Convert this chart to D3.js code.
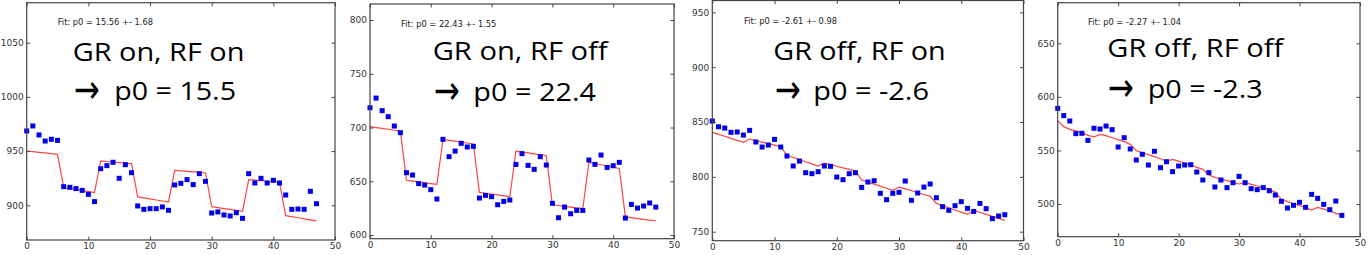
<!DOCTYPE html>
<html><head><meta charset="utf-8">
<script src="https://cdn.jsdelivr.net/npm/d3@7"></script>
<style>
html,body{margin:0;padding:0;background:#fff;}
svg{display:block;}
</style></head>
<body>
<script>
// ---- data ----
const steps = d3.range(48);
const xTicks = [0, 10, 20, 30, 40, 50];

const titles = ["GR on, RF on", "GR on, RF off", "GR off, RF on", "GR off, RF off"];
const results = ["p0 = 15.5", "p0 = 22.4", "p0 = -2.6", "p0 = -2.3"];
const fitLabels = ["Fit: p0 = 15.56 +- 1.68", "Fit: p0 = 22.43 +- 1.55", "Fit: p0 = -2.61 +- 0.98", "Fit: p0 = -2.27 +- 1.04"];

const yTicks1 = [900, 950, 1000, 1050];
const yTicks2 = [600, 650, 700, 750, 800];
const yTicks3 = [750, 800, 850, 900, 950];
const yTicks4 = [500, 550, 600, 650];

const pts1 = [968.6,973.2,964.9,959.3,960.9,959.9,917.2,916.6,915.4,913.8,910.1,903.4,933.8,936.6,939.7,924.9,937.5,930.1,899.4,896.3,896.9,896.9,898.5,895.4,918.8,920.3,923.7,919.1,929.2,922.1,892.9,893.9,891.1,890.2,893.2,888.0,929.2,920.6,924.9,920.6,923.1,920.6,909.5,896.3,896.6,896.3,912.9,901.5];
const fit1 = [950.1,949.5,948.9,948.3,947.7,947.0,916.3,915.4,914.5,913.6,912.7,911.7,940.9,940.4,939.9,939.4,938.9,938.4,907.7,906.8,905.9,904.9,904.0,903.1,932.3,931.8,931.3,930.8,930.3,929.8,898.8,897.9,897.0,896.2,895.4,894.5,923.7,923.2,922.7,922.2,921.7,921.2,890.5,889.5,888.5,887.5,886.6,885.6];

const pts2 = [718.4,727.4,715.7,710.1,701.4,695.2,658.0,655.8,647.8,646.5,642.2,633.5,689.0,672.9,678.1,685.3,681.9,682.5,634.4,636.9,635.7,628.2,631.3,632.6,665.7,675.7,664.8,661.1,672.9,665.1,629.5,616.1,626.0,619.8,622.9,622.9,669.8,665.7,674.4,662.9,664.5,667.6,615.8,628.5,625.1,627.0,629.8,626.0];
const fit2 = [700.8,700.0,699.2,698.4,697.5,696.7,650.9,650.1,649.4,648.6,647.9,647.1,689.0,688.1,687.3,686.4,685.6,684.7,639.7,638.9,638.1,637.3,636.5,635.7,678.1,677.2,676.4,675.5,674.7,673.8,628.2,627.5,626.7,626.0,625.2,624.5,667.6,666.5,665.4,664.2,663.1,662.0,617.1,616.2,615.3,614.5,613.8,613.3];

const pts3 = [850.9,845.7,844.5,840.6,840.9,838.1,842.4,831.8,827.2,829.0,834.2,827.2,819.0,809.9,814.4,803.8,802.9,804.7,809.9,809.6,799.8,797.4,802.9,803.8,790.4,795.3,796.5,785.0,779.2,785.0,785.9,796.2,778.6,785.3,790.7,793.5,781.0,772.8,769.5,773.7,777.4,771.3,768.5,775.8,771.0,761.9,764.3,765.5];
const fit3 = [840.6,838.8,837.0,835.1,833.3,831.5,834.5,833.1,831.7,830.3,828.9,827.5,819.6,817.7,815.7,813.8,811.8,809.9,812.6,811.1,809.7,808.2,806.8,805.3,797.1,795.2,793.4,791.5,789.6,787.7,790.7,789.0,787.3,785.6,783.9,782.2,775.8,773.8,771.8,769.8,767.8,765.8,769.5,767.7,765.8,764.0,762.2,760.3];

const pts4 = [589.3,582.5,577.5,565.7,566.0,559.4,570.7,570.0,572.8,569.4,553.2,561.9,551.4,541.1,546.4,536.4,549.2,533.9,539.5,530.2,535.5,536.4,536.7,529.9,522.4,529.3,515.9,522.4,515.3,519.9,525.8,519.9,514.3,513.4,515.3,512.4,508.4,502.5,496.3,498.8,501.6,496.9,509.0,505.3,499.7,494.7,502.8,489.4];
const fit4 = [577.8,572.2,569.7,568.2,566.6,564.1,562.6,565.0,563.8,561.9,560.1,558.2,555.7,549.8,547.9,546.1,544.2,542.3,539.8,541.7,540.1,538.3,536.4,534.2,532.4,527.1,524.9,523.3,521.8,520.2,518.7,520.2,518.4,516.8,515.3,513.4,510.9,504.4,502.2,500.3,498.4,496.9,494.4,496.9,495.3,493.5,491.3,489.4];

// ---- layout (pixel geometry of each panel) ----
const layout = [
  {left: 26.7, right: 335, top: 2.7, bottom: 240, ymin: 868.0, ymax: 1086.9, fitX: 57.7, fitY: 25, tX: 72.7, tY: 61, tW: 171.7, aX: 74, rX: 114.3, rY: 100, rW: 121.7},
  {left: 370, right: 674, top: 4, bottom: 238.7, ymin: 596.6, ymax: 814.9, fitX: 401, fitY: 27, tX: 432.7, tY: 60, tW: 175, aX: 434, rX: 473.3, rY: 101, rW: 122.7},
  {left: 712.3, right: 1023.5, top: 0.5, bottom: 240.7, ymin: 741.8, ymax: 960.8, fitX: 744, fitY: 24, tX: 773.3, tY: 60, tW: 172.4, aX: 775, rX: 813.3, rY: 100, rW: 115.7},
  {left: 1057.7, right: 1360, top: 2.7, bottom: 236.7, ymin: 469.5, ymax: 687.9, fitX: 1088, fitY: 25, tX: 1107.3, tY: 57, tW: 176, aX: 1108, rX: 1147.7, rY: 98, rW: 115}
];

const panels = [
  {pts: pts1, fit: fit1, yTicks: yTicks1},
  {pts: pts2, fit: fit2, yTicks: yTicks2},
  {pts: pts3, fit: fit3, yTicks: yTicks3},
  {pts: pts4, fit: fit4, yTicks: yTicks4}
];

const W = 1371, H = 255;
const svg = d3.select("body").append("svg").attr("width", W).attr("height", H);
svg.append("rect").attr("width", W).attr("height", H).attr("fill", "#fff");

panels.forEach((p, i) => {
  const L = layout[i];
  const x = d3.scaleLinear().domain([0, 50]).range([L.left, L.right]);
  const y = d3.scaleLinear().domain([L.ymin, L.ymax]).range([L.bottom, L.top]);
  const g = svg.append("g");

  // fit line
  g.append("path")
    .datum(steps)
    .attr("fill", "none")
    .attr("stroke", "#ff4444")
    .attr("stroke-width", 1.2)
    .attr("d", d3.line().x(d => x(d)).y(d => y(p.fit[d])));

  // points
  const s = 5;
  g.selectAll("rect.pt").data(steps).enter().append("rect")
    .attr("class", "pt")
    .attr("x", d => x(d) - s / 2).attr("y", d => y(p.pts[d]) - s / 2)
    .attr("width", s).attr("height", s)
    .attr("fill", "#0000ee");

  // axes
  const styleAxis = sel => {
    sel.select(".domain").remove();
    sel.selectAll("line").attr("stroke", "#444").attr("stroke-width", 1);
    sel.selectAll("text").attr("fill", "#333").style("font-family", "DejaVu Sans").style("font-size", "9px");
  };
  g.append("g").attr("transform", `translate(${L.left},0)`)
    .call(d3.axisLeft(y).tickValues(p.yTicks).tickSize(-3.5).tickPadding(3).tickFormat(d3.format("d")))
    .call(styleAxis);
  g.append("g").attr("transform", `translate(${L.right},0)`)
    .call(d3.axisRight(y).tickValues(p.yTicks).tickSize(-3.5).tickFormat(""))
    .call(styleAxis);
  g.append("g").attr("transform", `translate(0,${L.bottom})`)
    .call(d3.axisBottom(x).tickValues(xTicks).tickSize(-3.5).tickPadding(3).tickFormat(d3.format("d")))
    .call(styleAxis);
  g.append("g").attr("transform", `translate(0,${L.top})`)
    .call(d3.axisTop(x).tickValues(xTicks).tickSize(-3.5).tickFormat(""))
    .call(styleAxis);

  // frame
  g.append("rect")
    .attr("x", L.left).attr("y", L.top)
    .attr("width", L.right - L.left).attr("height", L.bottom - L.top)
    .attr("fill", "none").attr("stroke", "#444").attr("stroke-width", 1.2);

  // fit label
  g.append("text").attr("x", L.fitX).attr("y", L.fitY)
    .style("font-family", "DejaVu Sans").style("font-size", "8.3px").attr("fill", "#222")
    .text(fitLabels[i]);

  // big annotations
  g.append("text").attr("x", L.tX).attr("y", L.tY)
    .style("font-family", "Open Sans").style("font-size", "25.5px").attr("fill", "#000")
    .attr("textLength", L.tW).attr("lengthAdjust", "spacingAndGlyphs")
    .text(titles[i]);
  g.append("text").attr("x", L.aX).attr("y", L.rY + 3)
    .style("font-family", "DejaVu Sans").style("font-size", "40px").attr("fill", "#000")
    .attr("textLength", 26).attr("lengthAdjust", "spacingAndGlyphs")
    .text("→");
  g.append("text").attr("x", L.rX).attr("y", L.rY)
    .style("font-family", "Open Sans").style("font-size", "25.5px").attr("fill", "#000")
    .attr("textLength", L.rW).attr("lengthAdjust", "spacingAndGlyphs")
    .text(results[i]);
});
</script>
</body></html>
